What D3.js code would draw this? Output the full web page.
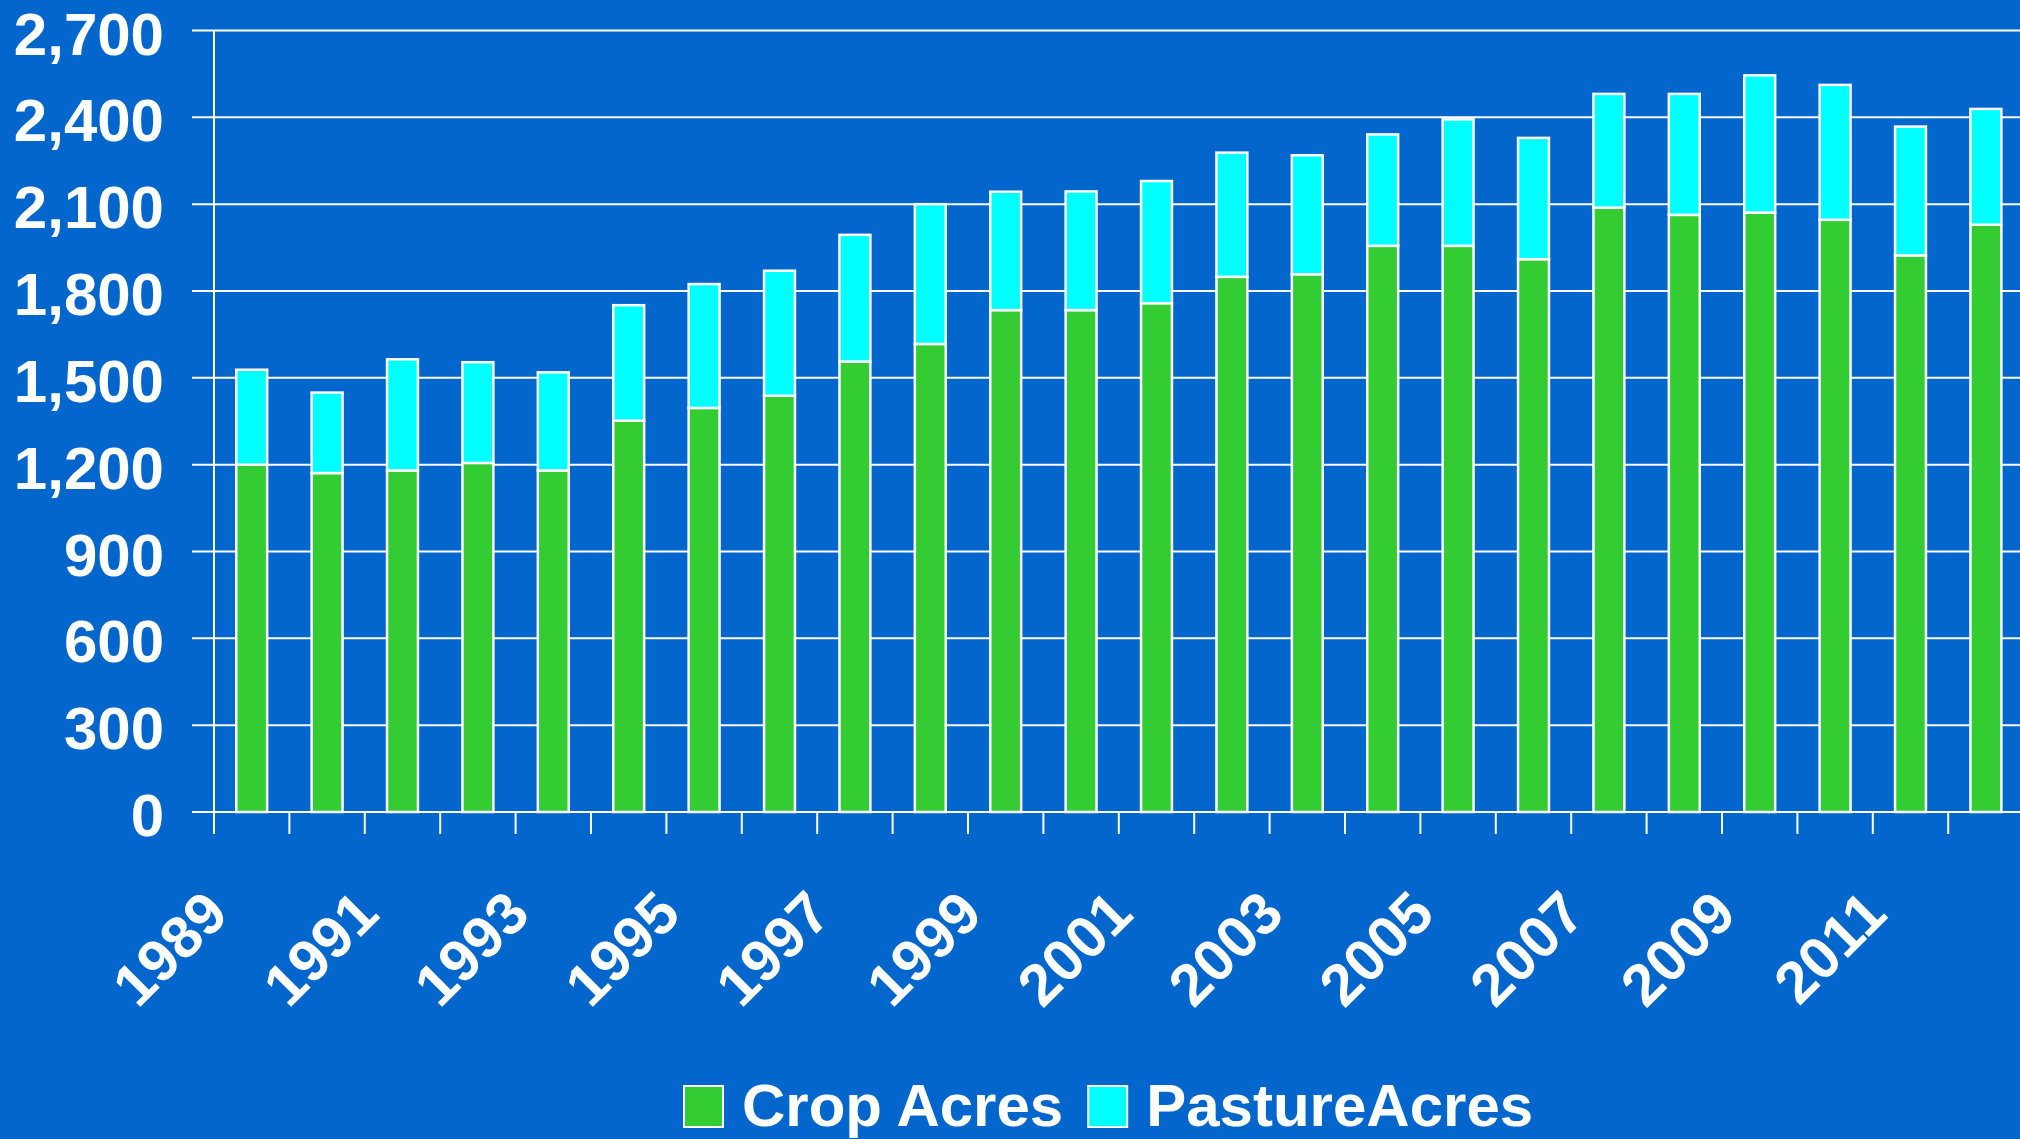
<!DOCTYPE html>
<html>
<head>
<meta charset="utf-8">
<script src="https://cdn.jsdelivr.net/npm/d3@7"></script>
<style>
    html, body { margin: 0; padding: 0; background: #0366cc; }
    svg { display: block; }
    text { font-family: "Liberation Sans", Arial, sans-serif; font-weight: bold; fill: #fff; }
</style>
</head>
<body>
<div id="chart"></div>
<script>
// Data
const years = d3.range(1989, 2013).map(String);
const cropAcres = [1200, 1171, 1180, 1206, 1180, 1352, 1396, 1438, 1556, 1617, 1734, 1734,
                   1758, 1849, 1858, 1956, 1956, 1910, 2088, 2063, 2071, 2046, 1923, 2029];
const pastureAcres = [328, 278, 384, 348, 339, 399, 428, 432, 438, 483, 409, 410,
                      422, 429, 411, 385, 437, 419, 393, 418, 474, 466, 445, 400];
const yTicks = [0, 300, 600, 900, 1200, 1500, 1800, 2100, 2400, 2700];
const xLabels = years.filter((d, i) => i % 2 === 0);
const seriesNames = ["Crop Acres", "PastureAcres"];

// Configuration
const config = {
    width: 2020,
    height: 1139,
    plot: { left: 214, top: 30.5, bottom: 812, step: 75.4 },
    colors: { bg: "#0366cc", crop: "#33cc33", pasture: "#00ffff", line: "#ffffff" },
    fontSize: 60
};

const svg = d3.select("#chart").append("svg")
    .attr("width", config.width)
    .attr("height", config.height);

svg.append("rect")
    .attr("width", config.width)
    .attr("height", config.height)
    .attr("fill", config.colors.bg);

const p = config.plot;
const x = d3.scaleBand()
    .domain(years)
    .range([p.left, p.left + p.step * years.length])
    .paddingInner(0.59)
    .paddingOuter(0.295);

const y = d3.scaleLinear()
    .domain([0, 2700])
    .range([p.bottom, p.top]);

// Stack the two series
const table = years.map((yr, i) => ({ year: yr, crop: cropAcres[i], pasture: pastureAcres[i] }));
const stacked = d3.stack().keys(["crop", "pasture"])(table);

// Gridlines + y ticks (left of the axis)
svg.append("g")
    .selectAll("line")
    .data(yTicks)
    .enter()
    .append("line")
    .attr("x1", p.left - 22)
    .attr("x2", config.width)
    .attr("y1", d => y(d))
    .attr("y2", d => y(d))
    .attr("stroke", config.colors.line)
    .attr("stroke-width", 2);

// Y axis line
svg.append("line")
    .attr("x1", p.left).attr("x2", p.left)
    .attr("y1", y(2700)).attr("y2", y(0) + 22)
    .attr("stroke", config.colors.line)
    .attr("stroke-width", 2);

// X ticks at band boundaries
const boundaries = d3.range(years.length + 1).map(i => p.left + i * x.step());
svg.append("g")
    .selectAll("line")
    .data(boundaries)
    .enter()
    .append("line")
    .attr("x1", d => d).attr("x2", d => d)
    .attr("y1", y(0)).attr("y2", y(0) + 22)
    .attr("stroke", config.colors.line)
    .attr("stroke-width", 2);

// Bars
const colorByKey = { crop: config.colors.crop, pasture: config.colors.pasture };
svg.append("g")
    .selectAll("g")
    .data(stacked)
    .enter()
    .append("g")
    .attr("fill", d => colorByKey[d.key])
    .selectAll("rect")
    .data(d => d)
    .enter()
    .append("rect")
    .attr("x", d => x(d.data.year))
    .attr("width", x.bandwidth())
    .attr("y", d => y(d[1]))
    .attr("height", d => y(d[0]) - y(d[1]))
    .attr("stroke", config.colors.line)
    .attr("stroke-width", 2.5);

// Y labels
svg.append("g")
    .selectAll("text")
    .data(yTicks)
    .enter()
    .append("text")
    .attr("x", 164)
    .attr("y", d => y(d))
    .attr("dy", "0.4em")
    .attr("text-anchor", "end")
    .attr("font-size", config.fontSize)
    .text(d => d3.format(",")(d));

// X labels, rotated
svg.append("g")
    .selectAll("text")
    .data(xLabels)
    .enter()
    .append("text")
    .attr("transform", d => `translate(${x(d) - x.step() * x.paddingInner() / 2 + 2},902) rotate(-45)`)
    .attr("dy", "0.35em")
    .attr("text-anchor", "end")
    .attr("font-size", 59)
    .text(d => d);

// Legend
const legendColors = [config.colors.crop, config.colors.pasture];
let lx = 684;
seriesNames.forEach((name, i) => {
    svg.append("rect")
        .attr("x", lx).attr("y", 1086)
        .attr("width", 39).attr("height", 41)
        .attr("fill", legendColors[i])
        .attr("stroke", config.colors.line)
        .attr("stroke-width", 2);
    const t = svg.append("text")
        .attr("x", lx + 58)
        .attr("y", 1126)
        .attr("font-size", config.fontSize)
        .text(name);
    lx += 58 + t.node().getComputedTextLength() + 25;
});
</script>
</body>
</html>
